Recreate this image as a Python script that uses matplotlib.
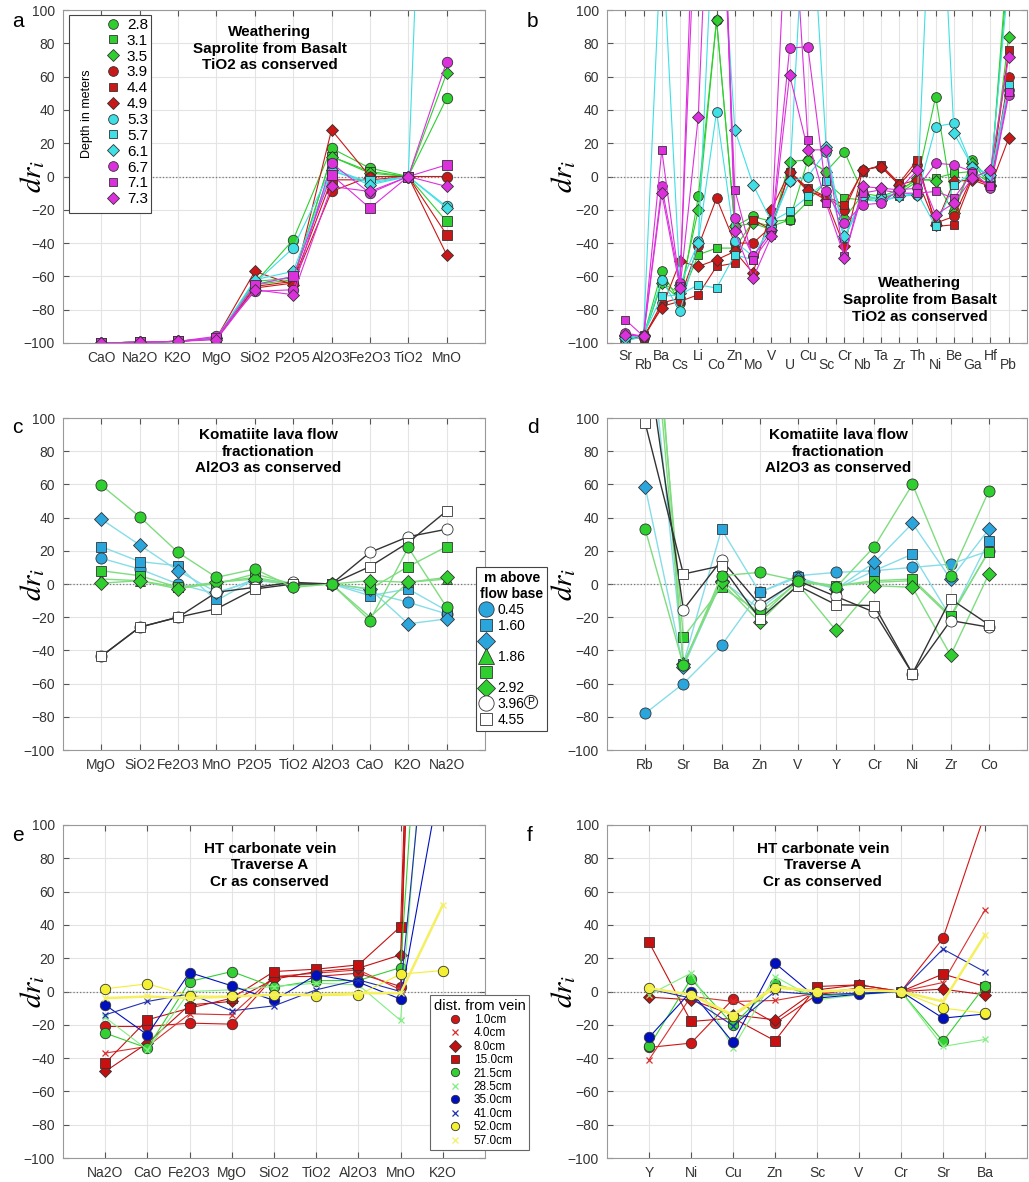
import numpy as np
import matplotlib.pyplot as plt
from matplotlib.lines import Line2D
from matplotlib.patches import Rectangle

plt.rcParams['font.family'] = ['Liberation Sans', 'DejaVu Sans']
plt.rcParams['mathtext.fontset'] = 'stix'

W, H = 1029, 1182

# ---------------- weathering (a, b)
depths = ['2.8', '3.1', '3.5', '3.9', '4.4', '4.9', '5.3', '5.7', '6.1', '6.7', '7.1', '7.3']
a_cats = ['CaO', 'Na2O', 'K2O', 'MgO', 'SiO2', 'P2O5', 'Al2O3', 'Fe2O3', 'TiO2', 'MnO']
a_vals = [
    [-100, -99.5, -99, -97, -64, -38, 17, 5, 0, 47],
    [-100, -99.5, -99, -97, -65, -62, 12, 3, 0, -27],
    [-100, -99.5, -99, -97, -63, -61, 12, 2, 0, 62],
    [-100, -99.5, -99, -97.5, -67, -64, -9, 0, 0, 0],
    [-100, -99.5, -99, -97.5, -66, -63, -2, -2, 0, -35],
    [-100, -99.5, -99, -97, -57, -65, 28, 0, 0, -47],
    [-100, -99.5, -99, -97, -64, -43, 5, -4, 0, -18],
    [-100, -99.5, -99, -97, -65, -60, 3, -3, 0, 600],
    [-100, -99.5, -99, -97, -62, -57, 4, -5, 0, -19],
    [-100, -99.5, -99, -96, -69, -68, 8, -10, 0, 69],
    [-100, -99.5, -99, -97, -65, -60, 1, -19, 0, 7],
    [-100, -99.5, -99, -98, -68, -71, -6, -9, 0, -6],
]
b_cats = ['Sr', 'Rb', 'Ba', 'Cs', 'Li', 'Co', 'Zn', 'Mo', 'V', 'U', 'Cu',
          'Sc', 'Cr', 'Nb', 'Ta', 'Zr', 'Th', 'Ni', 'Be', 'Ga', 'Hf', 'Pb']
b_vals = [
    [-97, -96, -57, -76, -12, 94, -30, -24, -27, -26, 10, 3, 15, -10, -12, -8, -2, 48, -21, 10, -3, 130],
    [-98, -96, -64, -74, -47, -43, -43, -27, -30, -26, -15, -3, -13, -14, -13, -10, -3, -1, 2, 3, -4, 140],
    [-96, -96, -64, -70, -20, 94, -30, -28, -32, 9, 10, 3, -25, -11, -14, -9, -1, -3, -22, 8, -5, 84],
    [-96, -97, -76, -73, -42, -13, -40, -40, -30, 3, -9, -12, -20, 4, 6, -5, 7, -28, -24, 0, -5, 60],
    [-97, -97, -78, -75, -71, -54, -52, -26, -32, 3, -7, -12, -17, 3, 7, -4, 10, -30, -29, -1, -5, 76],
    [-95, -96, -79, -51, -54, -50, -45, -58, -20, 3, -8, -14, -42, 4, 6, -5, -2, -29, -3, -2, -6, 23],
    [-99, -96, -62, -81, -39, 39, -39, -48, -30, -3, 0, 15, -37, -13, -12, -10, -11, 30, 32, 6, 0, 52],
    [-98, -95, -72, -71, -65, -67, -47, -50, -27, -21, -12, -3, -37, -14, -15, -12, -10, -30, -5, 2, 0, 55],
    [-97, -95, 150, -65, -40, 200, 28, -5, -27, -3, 200, 18, -36, -12, -14, -12, -11, 250, 26, 6, 1, 120],
    [-94, -96, -6, -64, 200, 300, -25, -48, -33, 77, 78, -9, -28, -17, -16, -8, -7, 8, 7, 3, -7, 49],
    [-86, -96, 16, -66, 250, 250, -8, -50, -35, 200, 22, -16, -48, -10, -8, -10, -10, -9, -13, 2, -6, 51],
    [-95, -96, -10, -67, 36, 300, -33, -61, -36, 61, 16, 16, -49, -6, -7, -8, 4, -23, -16, -1, 4, 72],
]

# ---------------- komatiite (c, d)
c_cats = ['MgO', 'SiO2', 'Fe2O3', 'MnO', 'P2O5', 'TiO2', 'Al2O3', 'CaO', 'K2O', 'Na2O']
c_vals = [
    [15.5, 9, 0, -6, 3, 0, 0, -5, -11, -18],
    [22.5, 13.5, 11, -10, 3, 0, 0, -7, -3, -16],
    [39, 23.5, 8, -5, 2, 0, 0, -3, -24, -21],
    [3, 2, -2, 1, 4, 0, 0, -20, 1, 3],
    [8, 5, -2, 0, 6, 0, 0, -3, 10.5, 22.5],
    [0.5, 2, -3, 1, 3, -1, 0, 2, 1, 4],
    [-43.5, -26, -20, -5, -2, 1, 0, 19, 28.5, 33],
    [-43.5, -26, -20, -15, -3, 0, 0, 10.5, 25, 44],
]
c_green_circle = [59.5, 40.5, 19, 4, 9, -2, 0, -22, 22, -14]
d_cats = ['Rb', 'Sr', 'Ba', 'Zn', 'V', 'Y', 'Cr', 'Ni', 'Zr', 'Co']
d_vals = [
    [-78, -60, -37, -5, 5, 7, 8, 10, 12, 20],
    [180, -48, 33, -5, 4, -3, 8, 18, -20, 26],
    [58.5, -50, 2, -15, 3, -3, 13, 36.5, 3, 33],
    [220, -48, 3, -20, 2, -1, 1, 2, -20, 20],
    [230, -32, -2, -17, 1, -1, 2, 3, -19, 19.5],
    [254, -48, 1, -23, 0, -28, -1, -2, -43, 6],
    [147, -15.5, 14.5, -12.5, 2, -7.5, -17, -54, -22, -26],
    [97, 6, 11, -21, -1, -12.5, -13, -54, -9, -24.5],
]
d_green_circle = [33, -49, 5, 7, 2, -2, 22.5, 60, 5, 56]
heights = ['0.45', '1.60', '', '1.86', '', '2.92', '3.96', '4.55']

# ---------------- carbonate vein (e, f)
dists = ['1.0cm', '4.0cm', '8.0cm', '15.0cm', '21.5cm', '28.5cm', '35.0cm', '41.0cm', '52.0cm', '57.0cm']
e_cats = ['Na2O', 'CaO', 'Fe2O3', 'MgO', 'SiO2', 'TiO2', 'Al2O3', 'MnO', 'K2O']
e_vals = [
    [-21, -21, -19, -19.6, 9, 9, 11, 3, 900],
    [-37, -33, -13.4, -14, 9, 11, 13, 1, 1100],
    [-48, -31, -8, -6, 7.4, 12, 14, 22, 700],
    [-43, -17, -10, -4, 12, 13.4, 16, 39, 800],
    [-25, -34, 6, 12, 2.6, 6.6, 6.6, 14.4, 400],
    [-15.6, -35, 0, 1, 3, 5, 4, -17.4, 300],
    [-8, -26, 11.4, 3.4, -5.4, 10, 5.6, -4.6, 136],
    [-14, -6, -1.4, -11.6, -8.6, 1, 7, 0, 263],
    [1.6, 4.6, -2.6, -3, -2, -2.6, -2, 10.4, 12.6],
    [-4, -3, -4, -3, -2, -2, -1, -1, 52],
]
f_cats = ['Y', 'Ni', 'Cu', 'Zn', 'Sc', 'V', 'Cr', 'Sr', 'Ba']
f_vals = [
    [-33.6, -31, -4.6, -19, -2, 2, 0, 32, 107],
    [-41, -3, -6, -5.4, -1, 2, 0, 5.4, 49],
    [-3.4, -5, -14, -17, 1, 4, 0, 1.4, -2],
    [29.6, -18, -16, -29.6, 3, 4, 0, 10.5, 3],
    [-33, 7.6, -20, 4.6, -3, -1, 0, -30, 3.4],
    [-2, 11, -34, 9, -5, -2, 0, -33, -28.8],
    [-27.6, 0, -30.6, 17, -4, -1.6, 0, -16, -13.5],
    [1.6, -4, -20.5, 0, -2, -1, 0, 25.5, 11.7],
    [2, -2, -15, 2, 0, 1, 0, -10, -13],
    [2, -2, -14, 3, 0, 1, 0, -6, 34],
]

GREEN, RED, CYAN, MAG = '#2fcf2f', '#c81818', '#3ee0e6', '#dd30dd'
w_colors = [GREEN] * 3 + [RED] * 3 + [CYAN] * 3 + [MAG] * 3
w_markers = ['o', 's', 'D'] * 4

BLUE = '#2aa6dc'
k_face = [BLUE, BLUE, BLUE, GREEN, GREEN, GREEN, 'white', 'white']
k_line = ['#86dde8'] * 3 + ['#7fdc7f'] * 3 + ['#333333'] * 2
k_markers = ['o', 's', 'D', '^', 's', 'D', 'o', 's']

v_face = ['#d41515', '#d83030', '#c01010', '#c81010', '#33d033', '#80ee80', '#0010c0', '#2030b0', '#f2f030', '#f4f060']
v_markers = ['o', 'x', 'D', 's', 'o', 'x', 'o', 'x', 'o', 'x']

fig = plt.figure(figsize=(W / 100, H / 100), dpi=100)


def px_axes(left, top, right, bottom):
    return fig.add_axes([left / W, 1 - bottom / H, (right - left) / W, (bottom - top) / H])


def style(ax, cats, lab_x):
    ax.set_xlim(0, len(cats) + 1)
    ax.set_ylim(-100, 100)
    ax.set_xticks(range(1, len(cats) + 1))
    ax.set_xticklabels(cats)
    ax.set_yticks(np.arange(-100, 101, 20))
    ax.grid(True, color='#e4e4e4', lw=0.8)
    ax.set_axisbelow(True)
    ax.tick_params(direction='in', top=True, right=True, length=4, color='#555555',
                   labelsize=10, labelcolor='#333333', pad=6)
    for s in ax.spines.values():
        s.set_color('#999999')
    ax.axhline(0, color='#777777', ls=':', lw=0.9, zorder=1)
    ax.set_ylabel('$dr_i$', fontsize=21)
    ax.yaxis.set_label_coords(lab_x, 0.5)


def title(ax, x, y, txt):
    ax.text(x, y, txt, transform=ax.transAxes, ha='center', va='top', fontsize=11,
            fontweight='bold', linespacing=1.25, zorder=10)


axA = px_axes(63, 10, 485, 343)
axB = px_axes(607, 10, 1027, 343)
axC = px_axes(63, 418, 485, 750)
axD = px_axes(607, 418, 1027, 750)
axE = px_axes(63, 825, 485, 1158)
axF = px_axes(607, 825, 1027, 1158)

LX_L, LX_R = -0.038, -0.07

# ---- a
style(axA, a_cats, LX_L)
xa = np.arange(1, len(a_cats) + 1)
for vals, c, m in zip(a_vals, w_colors, w_markers):
    axA.plot(xa, vals, color=c, lw=0.8, marker=m, ms=7.5 if m == 'o' else 6.5,
             mfc=c, mec='#333333', mew=0.6)
title(axA, 0.49, 0.955, 'Weathering\nSaprolite from Basalt\nTiO2 as conserved')
fig.patches.append(Rectangle((69 / W, 1 - 213 / H), 82 / W, 198 / H, transform=fig.transFigure,
                             fill=True, facecolor='white', edgecolor='#444444', lw=0.8, zorder=3))
fig.text(87 / W, 1 - 114 / H, 'Depth in meters', rotation=90, ha='center', va='center',
         fontsize=9, zorder=4)
handles = [Line2D([], [], ls='none', marker=m, mfc=c, mec='#333333', mew=0.6,
                  ms=7 if m == 'o' else 6) for c, m in zip(w_colors, w_markers)]
leg = fig.legend(handles, depths, loc='upper left', bbox_to_anchor=(104 / W, 1 - 18 / H),
                 frameon=False, fontsize=11, handletextpad=0.3, labelspacing=0.12,
                 borderpad=0, borderaxespad=0, handlelength=1.2)
leg.set_zorder(5)

# ---- b
style(axB, b_cats, LX_R)
xb = np.arange(1, len(b_cats) + 1)
for vals, c, m in zip(b_vals, w_colors, w_markers):
    axB.plot(xb, vals, color=c, lw=0.8, marker=m, ms=7 if m == 'o' else 6,
             mfc=c, mec='#333333', mew=0.6)
for i, t in enumerate(axB.xaxis.get_major_ticks()):
    t.set_pad(4 if i % 2 == 0 else 11)
title(axB, 0.745, 0.2, 'Weathering\nSaprolite from Basalt\nTiO2 as conserved')

# ---- c
style(axC, c_cats, LX_L)
xc = np.arange(1, len(c_cats) + 1)
for vals, fc, lc, m in zip(c_vals, k_face, k_line, k_markers):
    axC.plot(xc, vals, color=lc, lw=1.0, marker=m, ms=8 if m == 'o' else 7,
             mfc=fc, mec='#333333', mew=0.6)
axC.plot(xc, c_green_circle, color='#7fdc7f', lw=1.0, marker='o', ms=8, mfc=GREEN,
         mec='#333333', mew=0.6)
title(axC, 0.486, 0.97, 'Komatiite lava flow\nfractionation\nAl2O3 as conserved')
handles = [Line2D([], [], ls='none', marker=m, mfc=fc, mec='#333333', mew=0.6,
                  ms=11 if m in 'o^' else 9) for fc, m in zip(k_face, k_markers)]
leg = fig.legend(handles, heights,
                 loc='upper left', bbox_to_anchor=(476 / W, 1 - 567 / H), fontsize=10,
                 title='m above\nflow base', title_fontproperties={'weight': 'bold', 'size': 10},
                 alignment='left', frameon=True, fancybox=False, edgecolor='#444444',
                 framealpha=1, handletextpad=0.35, labelspacing=0.12, borderpad=0.3,
                 borderaxespad=0, handlelength=0.9)
leg.get_frame().set_linewidth(0.8)
leg.get_title().set_multialignment('center')
leg.set_zorder(5)
fig.text(531 / W, 1 - 702 / H, 'P', ha='center', va='center', fontsize=7.5, zorder=6,
         bbox=dict(boxstyle='circle,pad=0.15', fc='white', ec='#333333', lw=0.8))

# ---- d
style(axD, d_cats, LX_R)
xd = np.arange(1, len(d_cats) + 1)
for vals, fc, lc, m in zip(d_vals, k_face, k_line, k_markers):
    axD.plot(xd, vals, color=lc, lw=1.0, marker=m, ms=8 if m == 'o' else 7,
             mfc=fc, mec='#333333', mew=0.6)
axD.plot(xd, d_green_circle, color='#7fdc7f', lw=1.0, marker='o', ms=8, mfc=GREEN,
         mec='#333333', mew=0.6)
title(axD, 0.55, 0.97, 'Komatiite lava flow\nfractionation\nAl2O3 as conserved')

# ---- e, f
for ax, cats, data, lx in [(axE, e_cats, e_vals, LX_L), (axF, f_cats, f_vals, LX_R)]:
    style(ax, cats, lx)
    xx = np.arange(1, len(cats) + 1)
    for i, (vals, fc, m) in enumerate(zip(data, v_face, v_markers)):
        lw = 1.8 if i == 9 else 0.8
        if m == 'x':
            ax.plot(xx, vals, color=fc, lw=lw, marker='x', ms=5, mew=0.9)
        else:
            ax.plot(xx, vals, color=fc, lw=lw, marker=m, ms=7.5 if m == 'o' else 6.5,
                    mfc=fc, mec='#333333', mew=0.6)
title(axE, 0.49, 0.95, 'HT carbonate vein\nTraverse A\nCr as conserved')
title(axF, 0.514, 0.95, 'HT carbonate vein\nTraverse A\nCr as conserved')
handles = []
for fc, m in zip(v_face, v_markers):
    if m == 'x':
        handles.append(Line2D([], [], ls='none', marker='x', color=fc, ms=5, mew=0.9))
    else:
        handles.append(Line2D([], [], ls='none', marker=m, mfc=fc, mec='#333333', mew=0.6, ms=6))
leg = fig.legend(handles, dists, loc='upper left', bbox_to_anchor=(430 / W, 1 - 995 / H),
                 fontsize=8.5, title='dist. from vein', title_fontsize=10.5, frameon=True,
                 fancybox=False, edgecolor='#666666', framealpha=1, handletextpad=0.8,
                 labelspacing=0.12, borderpad=0.3, borderaxespad=0, handlelength=1.5)
leg.get_frame().set_linewidth(0.8)
leg.set_zorder(5)

for lab, x, y in [('a', 12, 12), ('b', 527, 12), ('c', 12, 418), ('d', 527, 418),
                  ('e', 12, 826), ('f', 527, 826)]:
    fig.text(x / W, 1 - y / H, lab, fontsize=15, va='top', ha='left')

fig.savefig('out.png', dpi=100)
